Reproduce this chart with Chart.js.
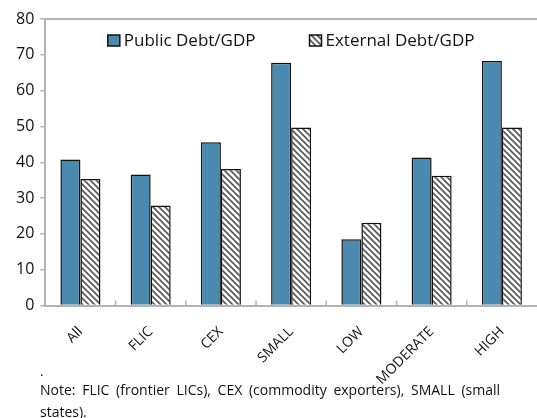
<!DOCTYPE html>
<html>
<head>
<meta charset="utf-8">
<script src="https://cdn.jsdelivr.net/npm/chart.js@4"></script>
<style>
   body { margin: 0; background: #fff; }
   #wrap { width: 537px; height: 418px; position: relative; }
   #dot { position: absolute; left: 40px; top: 362px; font: 13px "Open Sans", sans-serif; color: #111; }
   #note { position: absolute; left: 40px; top: 379px; width: 460px; font: 14px "Open Sans", sans-serif; line-height: 22px; color: #111; text-align: justify; }
</style>
</head>
<body>
<div id="wrap">
   <canvas id="c" width="537" height="418"></canvas>
   <div id="dot">.</div>
   <div id="note">Note: FLIC (frontier LICs), CEX (commodity exporters), SMALL (small states).</div>
</div>
<script>
const categories = ["All", "FLIC", "CEX", "SMALL", "LOW", "MODERATE", "HIGH"];
const publicDebt = [40.8, 36.6, 45.6, 67.8, 18.5, 41.3, 68.3];
const externalDebt = [35.3, 27.9, 38.1, 49.7, 23.1, 36.2, 49.7];
const yTicks = [0, 10, 20, 30, 40, 50, 60, 70, 80];

function hatch() {
   const p = document.createElement("canvas");
   p.width = 6; p.height = 6;
   const g = p.getContext("2d");
   g.fillStyle = "#fff";
   g.fillRect(0, 0, 6, 6);
   g.strokeStyle = "#555";
   g.lineWidth = 1.6;
   g.beginPath();
   g.moveTo(-1, -1); g.lineTo(7, 7);
   g.moveTo(-1, 5); g.lineTo(1, 7);
   g.moveTo(5, -1); g.lineTo(7, 1);
   g.stroke();
   return document.getElementById("c").getContext("2d").createPattern(p, "repeat");
}

// top frame line + small inward ticks on the x axis
const frame = {
   id: "frame",
   afterDraw(chart) {
      const { ctx, chartArea } = chart;
      const x = chart.scales.x;
      ctx.save();
      ctx.strokeStyle = "#b3b3b3";
      ctx.lineWidth = 2;
      ctx.beginPath();
      ctx.moveTo(chartArea.left, chartArea.top);
      ctx.lineTo(chartArea.right, chartArea.top);
      ctx.stroke();
      ctx.lineWidth = 1.5;
      ctx.beginPath();
      for (let i = 1; i < categories.length; i++) {
         const px = (x.getPixelForValue(i - 1) + x.getPixelForValue(i)) / 2;
         ctx.moveTo(px, chartArea.bottom);
         ctx.lineTo(px, chartArea.bottom - 5);
      }
      ctx.stroke();
      ctx.restore();
   }
};

// legend drawn inside the plot, under the top frame
const innerLegend = {
   id: "innerLegend",
   afterDraw(chart) {
      const { ctx, chartArea } = chart;
      const sets = chart.data.datasets;
      const box = 12, gap = 4, between = 54;
      ctx.save();
      ctx.font = "17px 'Open Sans'";
      const widths = sets.map(s => box + gap + ctx.measureText(s.label).width);
      const total = widths[0] + between + widths[1];
      let x = (chartArea.left + chartArea.right) / 2 - total / 2;
      const cy = chartArea.top + 22;
      sets.forEach((s, i) => {
         ctx.fillStyle = s.backgroundColor;
         ctx.fillRect(x, cy - 6, box, 11);
         ctx.strokeStyle = "#111";
         ctx.lineWidth = 1.5;
         ctx.strokeRect(x, cy - 6, box, 11);
         ctx.fillStyle = "#111";
         ctx.textBaseline = "middle";
         ctx.fillText(s.label, x + box + gap, cy);
         x += widths[i] + between;
      });
      ctx.restore();
   }
};

new Chart(document.getElementById("c"), {
   type: "bar",
   data: {
      labels: categories,
      datasets: [
         {
            label: "Public Debt/GDP",
            data: publicDebt,
            backgroundColor: "#4a8aae",
            borderColor: "#111",
            borderWidth: 1.5,
            borderSkipped: "bottom"
         },
         {
            label: "External Debt/GDP",
            data: externalDebt,
            backgroundColor: hatch(),
            borderColor: "#111",
            borderWidth: 1.5,
            borderSkipped: "bottom"
         }
      ]
   },
   options: {
      responsive: false,
      animation: false,
      layout: { padding: { top: 19, right: 0, left: 10, bottom: 20 } },
      datasets: { bar: { categoryPercentage: 0.57, barPercentage: 1 } },
      plugins: {
         tooltip: { enabled: false },
         legend: { display: false }
      },
      scales: {
         x: {
            grid: { display: false },
            border: { color: "#b3b3b3", width: 2 },
            ticks: {
               color: "#111",
               maxRotation: 45,
               minRotation: 45,
               padding: 10,
               font: { family: "Open Sans", size: 14 }
            }
         },
         y: {
            min: 0,
            max: 80,
            afterBuildTicks(axis) { axis.ticks = yTicks.map(v => ({ value: v })); },
            grid: { drawOnChartArea: false, tickLength: 5, color: "#b3b3b3", lineWidth: 1.5 },
            border: { color: "#b3b3b3", width: 2 },
            ticks: {
               color: "#111",
               padding: 6,
               font: { family: "Open Sans", size: 16 }
            }
         }
      }
   },
   plugins: [frame, innerLegend]
});
</script>
</body>
</html>
